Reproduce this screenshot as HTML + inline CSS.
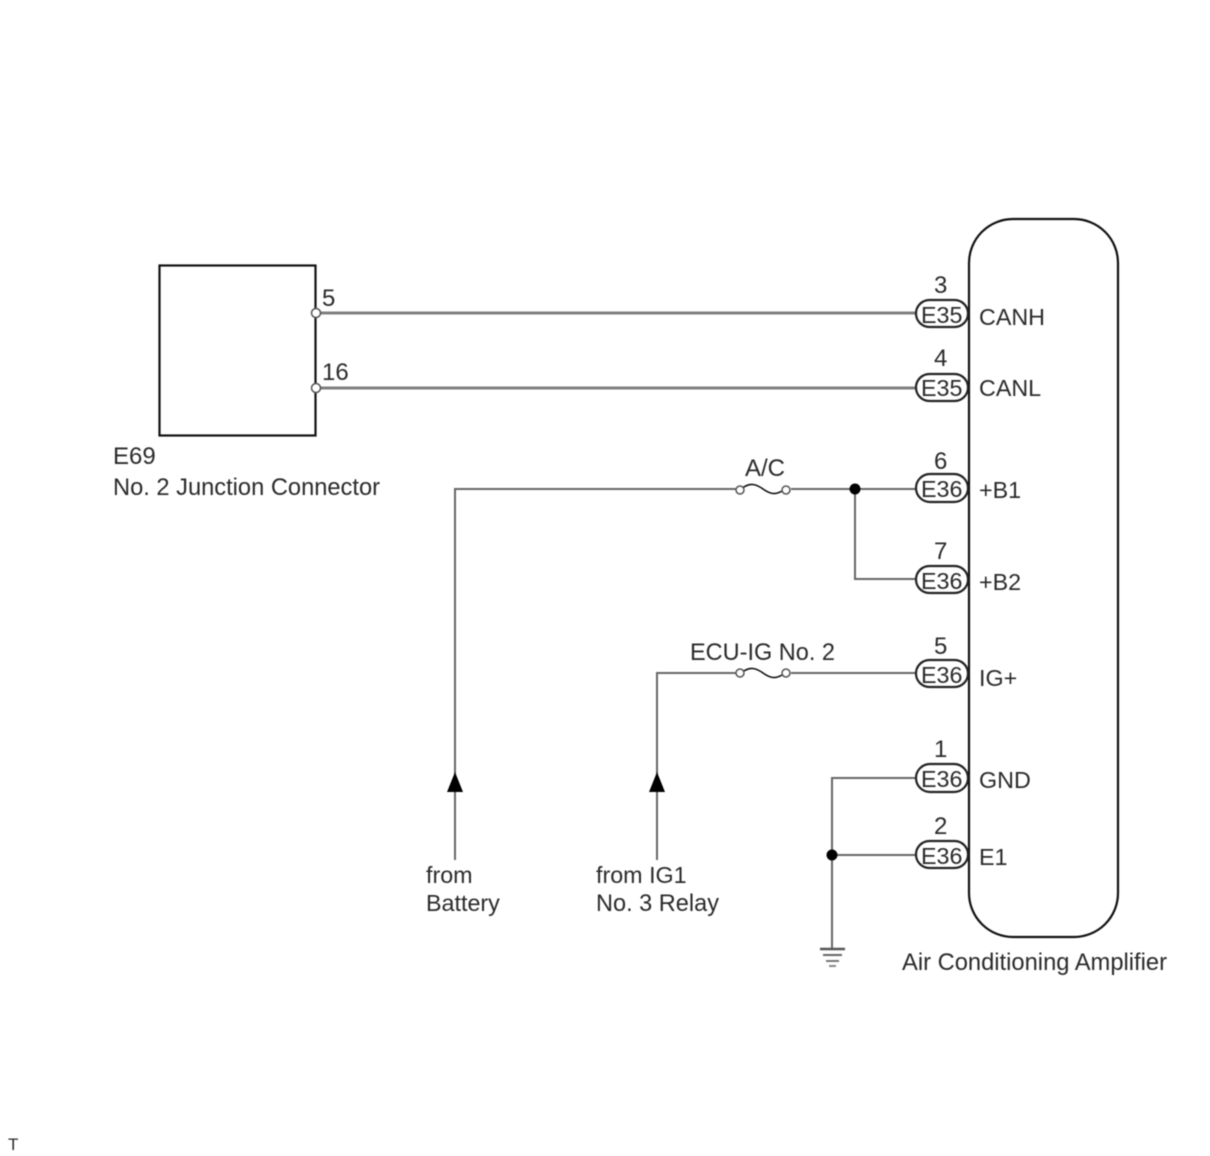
<!DOCTYPE html>
<html>
<head>
<meta charset="utf-8">
<style>
html,body{margin:0;padding:0;background:#fff;}
svg{display:block;filter:blur(0.4px);}
text{font-family:"Liberation Sans",sans-serif;font-size:24px;fill:#2a2a2a;}
text.n{font-size:23.300px;}
.w{fill:none;stroke:#666;stroke-width:2;}
.wt{fill:none;stroke:#808080;stroke-width:3;}
.b{fill:none;stroke:#111;stroke-width:2.200;}
.p{fill:#fff;stroke:#222;stroke-width:2.200;}
.c{fill:#fff;stroke:#555;stroke-width:1.500;}
</style>
</head>
<body>
<svg width="1210" height="1156" viewBox="0 0 1210 1156" xmlns="http://www.w3.org/2000/svg">
<rect x="159.500" y="265.500" width="156" height="170" class="b"/>
<rect x="969" y="219" width="149" height="718" rx="44" ry="44" class="b"/>

<path d="M316 313H918M316 388H918" class="wt"/>
<path d="M455 860V489H737M791 489H918M855 489V579H918M657 860V673H737M791 673H918M918 778H832V948M832 855H918" class="w"/>
<path d="M741 489C750 482 756 484 763 489C770 494 776 496 785 489" class="b" style="stroke-width:1.600"/>
<path d="M741 673C750 666 756 668 763 673C770 678 776 680 785 673" class="b" style="stroke-width:1.600"/>

<circle cx="316" cy="313" r="4.500" class="c"/>
<circle cx="316" cy="388" r="4.500" class="c"/>
<circle cx="740" cy="490" r="4" class="c"/>
<circle cx="786" cy="490" r="4" class="c"/>
<circle cx="740" cy="673" r="4" class="c"/>
<circle cx="786" cy="673" r="4" class="c"/>
<circle cx="855" cy="489" r="5.500" fill="#000"/>
<circle cx="832" cy="855" r="5.500" fill="#000"/>

<rect x="916" y="300" width="52" height="27" rx="13.500" class="p"/>
<rect x="916" y="374" width="52" height="27" rx="13.500" class="p"/>
<rect x="916" y="474" width="52" height="28" rx="14" class="p"/>
<rect x="916" y="566" width="52" height="27" rx="13.500" class="p"/>
<rect x="916" y="660" width="52" height="27" rx="13.500" class="p"/>
<rect x="916" y="764" width="52" height="28" rx="14" class="p"/>
<rect x="916" y="841" width="52" height="27" rx="13.500" class="p"/>

<polygon points="455,772 447,792 463,792" fill="#000"/>
<polygon points="657,772 649,792 665,792" fill="#000"/>

<path d="M820 949H845" stroke="#555" stroke-width="2.500" fill="none"/>
<path d="M823 955H842" stroke="#666" stroke-width="2" fill="none"/>
<path d="M826 961H839" stroke="#777" stroke-width="2" fill="none"/>
<path d="M829 966H836" stroke="#888" stroke-width="2" fill="none"/>

<text x="322" y="306">5</text>
<text x="322" y="380">16</text>
<text x="113" y="464">E69</text>
<text x="113" y="495" textLength="267" lengthAdjust="spacingAndGlyphs">No. 2 Junction Connector</text>
<text x="745" y="476">A/C</text>
<text x="690" y="660" textLength="145" lengthAdjust="spacingAndGlyphs">ECU-IG No. 2</text>
<text x="426" y="883" class="n">from</text>
<text x="426" y="911" class="n">Battery</text>
<text x="596" y="883" class="n">from IG1</text>
<text x="596" y="911" textLength="123" lengthAdjust="spacingAndGlyphs">No. 3 Relay</text>
<text x="902" y="970" textLength="265" lengthAdjust="spacingAndGlyphs">Air Conditioning Amplifier</text>
<text x="8" y="1150" style="font-size:17px">T</text>

<text x="934" y="293">3</text>
<text x="934" y="366">4</text>
<text x="934" y="469">6</text>
<text x="934" y="559">7</text>
<text x="934" y="654">5</text>
<text x="934" y="757">1</text>
<text x="934" y="834">2</text>

<text x="921" y="323" class="n">E35</text>
<text x="921" y="396" class="n">E35</text>
<text x="921" y="497" class="n">E36</text>
<text x="921" y="589" class="n">E36</text>
<text x="921" y="683" class="n">E36</text>
<text x="921" y="787" class="n">E36</text>
<text x="921" y="864" class="n">E36</text>

<text x="979" y="325" class="n">CANH</text>
<text x="979" y="396" class="n">CANL</text>
<text x="979" y="498" class="n">+B1</text>
<text x="979" y="590" class="n">+B2</text>
<text x="979" y="686" class="n">IG+</text>
<text x="979" y="788" class="n">GND</text>
<text x="979" y="865" class="n">E1</text>
</svg>
</body>
</html>
